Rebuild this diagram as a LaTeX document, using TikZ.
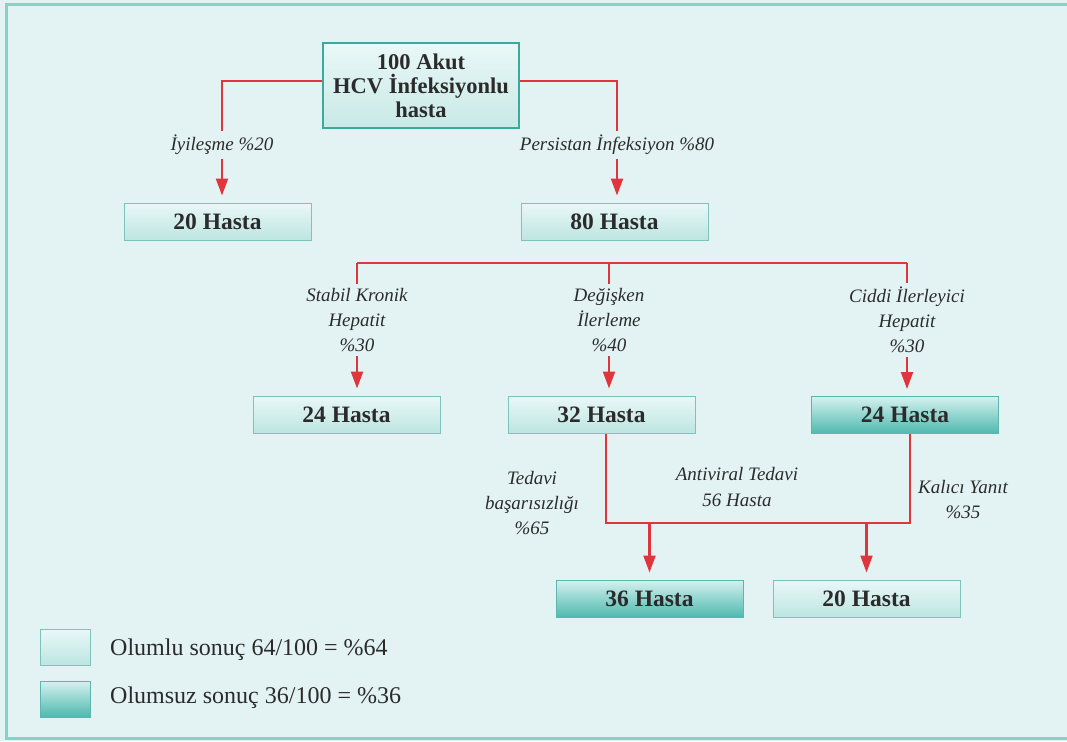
\documentclass[tikz,border=0pt]{standalone}
\usepackage{fontspec}
\setmainfont{Liberation Serif}
\usetikzlibrary{arrows.meta}
\definecolor{bg}{HTML}{E3F3F3}
\definecolor{frameC}{HTML}{86D2C6}
\definecolor{redC}{HTML}{E0353C}
\definecolor{txt}{HTML}{2B2B2B}
\definecolor{lightTop}{HTML}{E9F8F7}
\definecolor{lightBot}{HTML}{BDE5E1}
\definecolor{lightBd}{HTML}{7EC3BB}
\definecolor{darkTop}{HTML}{D5F1EF}
\definecolor{darkBot}{HTML}{4EB9AF}
\definecolor{darkBd}{HTML}{5DB6AD}
\definecolor{topFill}{HTML}{CBEAE7}
\definecolor{topBd}{HTML}{3BA99D}
\tikzset{
  lightbox/.style={draw=lightBd, line width=1pt, top color=lightTop, bottom color=lightBot,
    minimum width=187pt, minimum height=37pt, inner sep=0pt, text=txt,
    font=\fontsize{23.5}{25}\selectfont\bfseries},
  darkbox/.style={lightbox, draw=darkBd, top color=darkTop, bottom color=darkBot},
  topbox/.style={draw=topBd, line width=2pt, top color=lightTop, bottom color=topFill!85!lightBot,
    minimum width=196pt, minimum height=84pt, inner sep=0pt, text=txt, align=center,
    font=\fontsize{22.5}{24}\selectfont\bfseries},
  lbl/.style={align=center, text=txt, inner sep=4pt, font=\fontsize{19}{25}\selectfont\itshape},
  redline/.style={draw=redC, line width=2.2pt},
  redarrow/.style={redline, -{Triangle[width=12pt,length=17pt]}, shorten >=7pt},
  legbox/.style={draw=lightBd, line width=1pt, minimum width=50pt, minimum height=36pt, inner sep=0pt},
  legtxt/.style={anchor=west, text=txt, inner sep=0pt, font=\fontsize{24}{26}\selectfont}
}
\begin{document}
\begin{tikzpicture}[x=1pt,y=-1pt]
\useasboundingbox (0,0) rectangle (1067,741);
\fill[bg] (0,0) rectangle (1067,741);
\draw[frameC, line width=3pt] (6,5) rectangle (1085,738);

% boxes
\node[topbox] (top) at (421,85.5) {100 Akut\\HCV İnfeksiyonlu\\hasta};
\node[lightbox] (b20a) at (217.5,221.5) {20 Hasta};
\node[lightbox] (b80) at (614.5,221.5) {80 Hasta};
\node[lightbox] (b24a) at (346.5,414.5) {24 Hasta};
\node[lightbox] (b32) at (601.5,414.5) {32 Hasta};
\node[darkbox] (b24b) at (905,415) {24 Hasta};
\node[darkbox] (b36) at (649.5,598.5) {36 Hasta};
\node[lightbox] (b20b) at (866.5,598.5) {20 Hasta};

% labels
\node[lbl] (l1) at (222,145) {İyileşme \%20};
\node[lbl] (l2) at (617,145) {Persistan İnfeksiyon \%80};
\node[lbl] (lA) at (357,320) {Stabil Kronik\\Hepatit\\\%30};
\node[lbl] (lB) at (609,320) {Değişken\\İlerleme\\\%40};
\node[lbl] (lC) at (907,320) {Ciddi İlerleyici\\Hepatit\\\%30};
\node[lbl] (lT) at (532,503) {Tedavi\\başarısızlığı\\\%65};
\node[lbl] (lK) at (963,500) {Kalıcı Yanıt\\\%35};
\node[lbl] (lM) at (737,487) {Antiviral Tedavi\\56 Hasta};

% helper coordinates
\coordinate (ya) at (0,81);
\coordinate (hl) at (355,263);
\coordinate (hr) at (907,263);
\coordinate (yb) at (0,523);

% top connectors
\draw[redline] (top.west |- ya) -| (l1.north);
\draw[redline] (top.east |- ya) -| (l2.north);
\draw[redarrow] (l1.south) -- (l1.south |- b20a.north);
\draw[redarrow] (l2.south) -- (l2.south |- b80.north);

% branch line
\draw[redline] (lA.north |- hl) -- (hr);
\draw[redline] (lA.north) -- (lA.north |- hl);
\draw[redline] (lB.north) -- (lB.north |- hl);
\draw[redline] (lC.north) -- (lC.north |- hr);
\draw[redarrow] (lA.south) -- (lA.south |- b24a.north);
\draw[redarrow] (lB.south) -- (lB.south |- b32.north);
\draw[redarrow] (lC.south) -- (lC.south |- b24b.north);

% antiviral loop
\draw[redline] ([xshift=4.5pt]b32.south) -- ([xshift=4.5pt]b32.south |- yb) -| ([xshift=5pt]b24b.south);
\draw[redarrow] (b36.north |- yb) -- (b36.north);
\draw[redarrow] (b20b.north |- yb) -- (b20b.north);

% legend
\node[legbox, top color=lightTop, bottom color=lightBot] (g1) at (65,647) {};
\node[legbox, draw=darkBd, top color=darkTop, bottom color=darkBot] (g2) at (65,699) {};
\node[legtxt] (t1) at (110,650) {Olumlu sonuç 64/100 = \%64};
\node[legtxt] (t2) at (110,698) {Olumsuz sonuç 36/100 = \%36};
\end{tikzpicture}
\end{document}
